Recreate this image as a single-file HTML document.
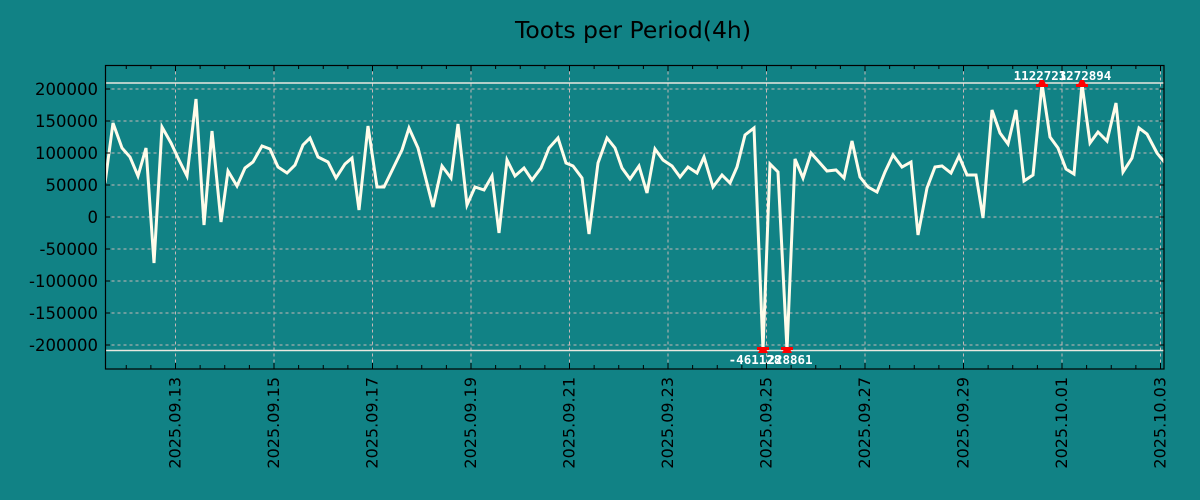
<!DOCTYPE html>
<html><head><meta charset="utf-8"><style>
html,body{margin:0;padding:0;background:#118285;}
svg{display:block;font-family:"DejaVu Sans","Liberation Sans",sans-serif;}
</style></head><body>
<svg id="s" width="1200" height="500" xmlns="http://www.w3.org/2000/svg">
<rect width="1200" height="500" fill="#118285"/>
<text x="633" y="38" font-size="23.5" text-anchor="middle" fill="#000">Toots per Period(4h)</text>
<g id="grid"></g>
<line x1="105.5" y1="83" x2="1164" y2="83" stroke="#e8e8e0" stroke-width="1.5"/>
<line x1="105.5" y1="350.5" x2="1164" y2="350.5" stroke="#e8e8e0" stroke-width="1.5"/>
<clipPath id="c"><rect x="105.5" y="65.5" width="1058.5" height="303.5"/></clipPath>
<polyline clip-path="url(#c)" fill="none" stroke="#fffcea" stroke-width="3" stroke-linejoin="miter" points="
105,183 113,123 122,148 130,157 138,176 146,148 154,263 162,127 171,143 179,160 187,176 196,99 204,225 212,131 221,222 228,171 237,186 245,168 253,162 262,146 270,149 278,167 287,173 295,165 303,145 310,138 318,157 328,162 336,178 345,164 352,158 359,210 368,126 377,187 384,187 402,150 409,128 418,148 433,207 442,166 451,178 458,124 467,205 475,187 484,190 492,176 499,233 507,160 515,176 524,168 532,180 541,168 549,148 558,138 566,163 573,166 582,178 589,234 598,163 607,138 615,148 622,168 630,179 639,166 647,193 655,149 663,160 672,166 680,177 688,167 697,173 704,157 713,187 722,175 730,183 737,167 745,135 754,128 763,350 770,164 778,172 787,350 795,159 803,178 811,153 819,162 827,171 836,170 844,178 852,141 860,177 868,187 877,192 885,172 893,155 902,167 911,162 918,235 927,188 935,167 942,166 951,173 959,156 967,175 976,175 983,218 992,110 1000,133 1008,144 1016,110 1024,181 1033,175 1042,84 1050,137 1058,148 1066,169 1074,174 1082,84 1090,143 1098,132 1107,141 1116,103 1123,172 1132,158 1139,128 1147,134 1157,153 1165,163"/>
<g fill="#ff0000">
<polygon points="1037,87 1047,87 1044,80 1040,80"/><rect x="1036" y="84" width="12" height="3"/>
<polygon points="1077,87 1087,87 1084,80 1080,80"/><rect x="1076" y="84" width="12" height="3"/>
<polygon points="758,353 768,353 765,347 761,347"/><rect x="757" y="347" width="12" height="3"/>
<polygon points="782,353 792,353 789,347 785,347"/><rect x="781" y="347" width="12" height="3"/>
</g>
<g fill="#fff" font-size="12.5" font-weight="bold" font-family="'DejaVu Sans Mono','Liberation Mono',monospace" text-anchor="middle">
<text x="1040" y="80">1122723</text><text x="1085" y="80">1272894</text>
<text x="755" y="364">-461128</text><text x="790" y="364">228861</text>
</g>
<rect x="105.5" y="65.5" width="1058.5" height="303.5" fill="none" stroke="#000" stroke-width="1.2"/>
<g id="ticks"></g>
</svg>
<script>
var ns="http://www.w3.org/2000/svg",g=document.getElementById("grid"),t=document.getElementById("ticks");
function el(p,n,a,txt){var e=document.createElementNS(ns,n);for(var k in a)e.setAttribute(k,a[k]);if(txt!=null)e.textContent=txt;p.appendChild(e);return e;}
for(var v=-200000;v<=200000;v+=50000){var y=217-v*0.00064;
el(g,"line",{x1:105.5,x2:1164,y1:y,y2:y,stroke:"#c8b8b8","stroke-width":1,"stroke-dasharray":"3,3"});
el(t,"line",{x1:105.5,x2:110,y1:y,y2:y,stroke:"#000"});el(t,"line",{x1:1159.5,x2:1164,y1:y,y2:y,stroke:"#000"});
el(t,"text",{x:98,y:y+6,"font-size":16.5,"text-anchor":"end",fill:"#000"},String(v));}
for(var i=-3;i<=41;i++){var x=175.5+i*24.625;if(x<106||x>1164)continue;
var maj=(i%4==0);
el(t,"line",{x1:x,x2:x,y1:369,y2:maj?363:365,stroke:"#000"});el(t,"line",{x1:x,x2:x,y1:65.5,y2:maj?71:69,stroke:"#000"});
if(maj){el(g,"line",{x1:x,x2:x,y1:65.5,y2:369,stroke:"#c8b8b8","stroke-width":1,"stroke-dasharray":"3,3"});
var d=i/2,lab;var day=13+d;lab=day<=30?"2025.09."+day:"2025.10.0"+(day-30);
el(t,"text",{x:0,y:0,"font-size":16,"text-anchor":"end",fill:"#000",transform:"translate("+(x+5)+",377) rotate(-90)"},lab);}}
</script>
</body></html>
